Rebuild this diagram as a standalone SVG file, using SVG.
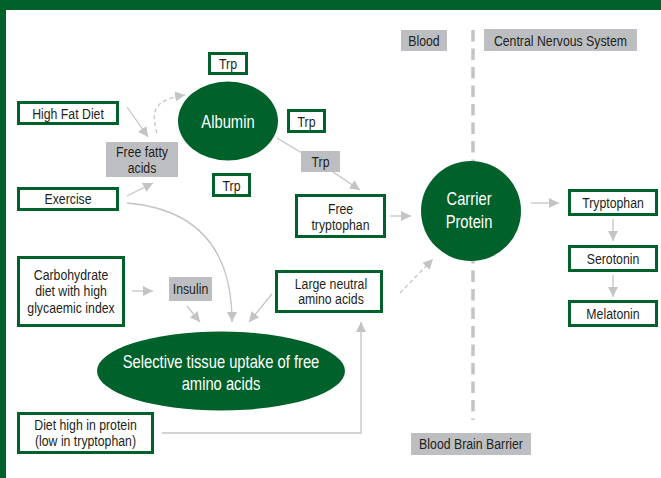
<svg xmlns="http://www.w3.org/2000/svg" width="661" height="478" viewBox="0 0 661 478">
<style>
text{font-family:"Liberation Sans",Arial,sans-serif;fill:#231f20;text-anchor:middle;transform:scaleX(0.82);transform-box:fill-box;transform-origin:center}
.bx{fill:#fff;stroke:#00612b;stroke-width:3}
.gb{fill:#bdbec1}
.el{fill:#00612b}
.wt{fill:#fff}
.t15{font-size:15px}
.t18{font-size:18px}
.ln{fill:none;stroke:#c3c4c6;stroke-width:1.3}
.dt{fill:none;stroke:#c3c4c6;stroke-width:1.3;stroke-dasharray:4 3}
</style>
<defs>
<marker id="ah" markerUnits="userSpaceOnUse" viewBox="0 0 10 10" refX="10" refY="5" markerWidth="10" markerHeight="12" orient="auto">
<path d="M0,0 L10,5 L0,10 z" fill="#c3c4c6"/>
</marker>
</defs>
<rect width="661" height="478" fill="#fff"/>
<rect x="0" y="0" width="661" height="10" fill="#00612b"/>
<rect x="0" y="0" width="6" height="478" fill="#00612b"/>

<g id="barrier">
<line x1="473" y1="30" x2="473" y2="420" stroke="#c3c4c6" stroke-width="3.5" stroke-dasharray="11.5 7"/>
</g>

<g id="connectors">
<line class="ln" x1="127" y1="107" x2="148" y2="137" marker-end="url(#ah)"/>
<path class="dt" d="M157,133 C152,115 150,100 185,95" marker-end="url(#ah)"/>
<line class="ln" x1="127" y1="196" x2="153" y2="183" marker-end="url(#ah)"/>
<path class="ln" d="M127,203 Q232,212 232,322" marker-end="url(#ah)"/>
<line class="ln" x1="132" y1="291" x2="153" y2="291" marker-end="url(#ah)"/>
<line class="ln" x1="187" y1="306" x2="200" y2="322" marker-end="url(#ah)"/>
<line class="ln" x1="272" y1="294" x2="249" y2="322" marker-end="url(#ah)"/>
<path class="ln" d="M162,433 L361,433 L361,322" marker-end="url(#ah)"/>
<line class="dt" x1="400" y1="293" x2="433" y2="259" marker-end="url(#ah)"/>
<line class="ln" x1="277" y1="138" x2="302" y2="153"/>
<line class="ln" x1="333" y1="172" x2="360" y2="190" marker-end="url(#ah)"/>
<line class="ln" x1="390" y1="216" x2="411" y2="216" marker-end="url(#ah)"/>
<line class="ln" x1="531" y1="203" x2="559" y2="203" marker-end="url(#ah)"/>
<line class="ln" x1="613" y1="219" x2="613" y2="241" marker-end="url(#ah)"/>
<line class="ln" x1="613" y1="275" x2="613" y2="297" marker-end="url(#ah)"/>
</g>

<g id="blood"><rect class="gb" x="401" y="30" width="46" height="21"/><text class="t15" x="424" y="46">Blood</text></g>
<g id="cns"><rect class="gb" x="484" y="29" width="153" height="22"/><text class="t15" x="560.5" y="46">Central Nervous System</text></g>
<g id="bbb"><rect class="gb" x="411" y="433" width="120" height="22"/><text class="t15" x="471" y="449">Blood Brain Barrier</text></g>

<g id="albumin"><ellipse class="el" cx="228" cy="121" rx="50" ry="39.5"/><text class="t18 wt" x="228" y="128">Albumin</text></g>
<g id="trp1"><rect class="bx" x="209.5" y="53.5" width="37" height="20"/><text class="t15" x="228" y="69">Trp</text></g>
<g id="trp2"><rect class="bx" x="288.5" y="110.5" width="36" height="21"/><text class="t15" x="306.5" y="127">Trp</text></g>
<g id="trp3"><rect class="bx" x="213.5" y="174.5" width="36" height="21"/><text class="t15" x="231.5" y="191">Trp</text></g>
<g id="trp4"><rect class="gb" x="301" y="151" width="39" height="21"/><text class="t15" x="320.5" y="167">Trp</text></g>

<g id="highfat"><rect class="bx" x="18.5" y="102.5" width="99" height="21"/><text class="t15" x="68" y="119">High Fat Diet</text></g>
<g id="ffa"><rect class="gb" x="106" y="142" width="72" height="35"/><text class="t15" x="142" y="157">Free fatty</text><text class="t15" x="142" y="173">acids</text></g>
<g id="exercise"><rect class="bx" x="18.5" y="188.5" width="99" height="21"/><text class="t15" x="68" y="204">Exercise</text></g>

<g id="carb"><rect class="bx" x="18.5" y="257.5" width="105" height="68"/><text class="t15" x="71" y="280">Carbohydrate</text><text class="t15" x="71" y="296">diet with high</text><text class="t15" x="71" y="313">glycaemic index</text></g>
<g id="insulin"><rect class="gb" x="169" y="277" width="43" height="24"/><text class="t15" x="190.5" y="294">Insulin</text></g>
<g id="lnaa"><rect class="bx" x="276.5" y="271.5" width="105" height="40"/><text class="t15" x="331" y="289">Large neutral</text><text class="t15" x="331" y="304">amino acids</text></g>
<g id="selective"><ellipse class="el" cx="221" cy="371" rx="124" ry="39.5"/><text class="t18 wt" x="221" y="368">Selective tissue uptake of free</text><text class="t18 wt" x="221" y="390">amino acids</text></g>
<g id="protein"><rect class="bx" x="18.5" y="413.5" width="134" height="39"/><text class="t15" x="85.5" y="430">Diet high in protein</text><text class="t15" x="85.5" y="446">(low in tryptophan)</text></g>

<g id="freetrp"><rect class="bx" x="296.5" y="195.5" width="88" height="41"/><text class="t15" x="340.5" y="214">Free</text><text class="t15" x="340.5" y="230">tryptophan</text></g>
<g id="carrier"><circle class="el" cx="471" cy="211" r="50"/><text class="t18 wt" x="469" y="205">Carrier</text><text class="t18 wt" x="469" y="228">Protein</text></g>

<g id="tryptophan"><rect class="bx" x="569.5" y="190.5" width="87" height="24"/><text class="t15" x="613" y="208">Tryptophan</text></g>
<g id="serotonin"><rect class="bx" x="569.5" y="246.5" width="87" height="24"/><text class="t15" x="613" y="264">Serotonin</text></g>
<g id="melatonin"><rect class="bx" x="569.5" y="301.5" width="87" height="24"/><text class="t15" x="613" y="319">Melatonin</text></g>
</svg>
